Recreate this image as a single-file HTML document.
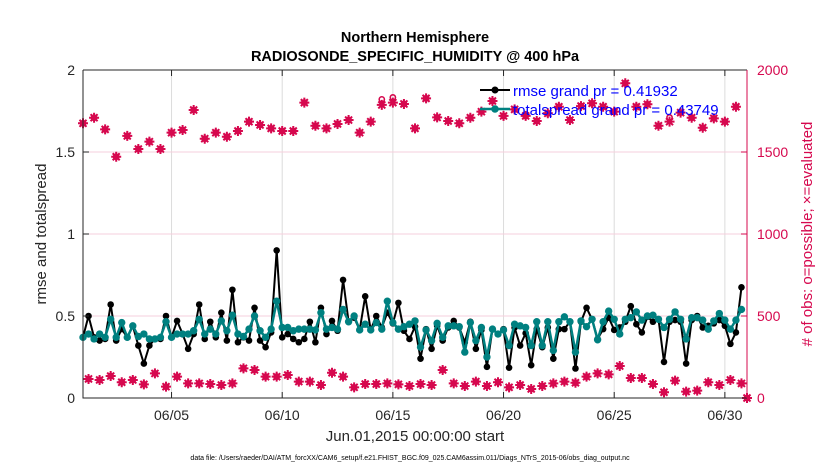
<!DOCTYPE html>
<html><head><meta charset="utf-8"><style>
body{margin:0;background:#fff;}
svg{display:block;font-family:"Liberation Sans",Arial,sans-serif;}
</style></head><body>
<svg id="chart" width="830" height="470" viewBox="0 0 830 470">
<rect x="0" y="0" width="830" height="470" fill="#fff"/>
<g id="grid"></g>
<g id="marks"></g>
<g id="axes"></g>
<text x="415" y="42" text-anchor="middle" font-size="14.5" font-weight="bold">Northern Hemisphere</text>
<text x="415" y="61" text-anchor="middle" font-size="14.5" font-weight="bold">RADIOSONDE_SPECIFIC_HUMIDITY @ 400 hPa</text>
<text x="415" y="441" text-anchor="middle" font-size="15" fill="#262626">Jun.01,2015 00:00:00 start</text>
<text transform="translate(46,234) rotate(-90)" text-anchor="middle" font-size="15" fill="#262626">rmse and totalspread</text>
<text transform="translate(812,234) rotate(-90)" text-anchor="middle" font-size="15" fill="#d6084e"># of obs: o=possible; ×=evaluated</text>
<text x="410" y="460" text-anchor="middle" font-size="7" fill="#000">data file: /Users/raeder/DAI/ATM_forcXX/CAM6_setup/f.e21.FHIST_BGC.f09_025.CAM6assim.011/Diags_NTrS_2015-06/obs_diag_output.nc</text>
<g>
<line x1="480" y1="90" x2="510" y2="90" stroke="#000" stroke-width="2"/>
<circle cx="495" cy="90" r="3.5" fill="#000"/>
<text x="513" y="96" font-size="15" fill="#0000ff">rmse grand pr = 0.41932</text>
<line x1="480" y1="109" x2="510" y2="109" stroke="#008080" stroke-width="2.5"/>
<circle cx="495" cy="109" r="3.8" fill="#008080"/>
<text x="513" y="115" font-size="15" fill="#0000ff">totalspread grand pr = 0.43749</text>
</g>
</svg>
<script>
const rmse = [.37,.50,.37,.35,.36,.57,.35,.42,.37,.44,.32,.21,.32,.36,.36,.50,.37,.47,.39,.30,.39,
.57,.36,.465,.37,.52,.35,.66,.34,.37,.35,.55,.35,.31,.40,.90,.37,.39,.36,.34,.36,
.465,.34,.55,.39,.47,.41,.72,.465,.49,.415,.62,.415,.50,.43,.52,.455,.58,.41,.36,.435,
.24,.42,.30,.44,.35,.43,.47,.43,.34,.465,.30,.415,.19,.42,.39,.42,.185,.43,.32,
.395,.20,.42,.31,.43,.24,.42,.42,.465,.18,.465,.55,.48,.36,.42,.49,.415,.43,.465,.56,
.45,.40,.495,.465,.48,.22,.465,.475,.465,.21,.475,.50,.43,.44,.455,.475,.44,.33,.40,.675];
const spread = [.37,.39,.36,.39,.37,.48,.37,.46,.37,.44,.375,.39,.36,.36,.37,.465,.37,.39,.39,.39,.41,
.48,.39,.42,.39,.47,.41,.505,.39,.375,.42,.50,.41,.37,.42,.59,.43,.43,.41,.42,.42,
.42,.415,.52,.42,.43,.42,.54,.465,.50,.415,.45,.415,.46,.42,.59,.46,.42,.435,.45,.47,
.31,.415,.35,.455,.37,.44,.44,.435,.28,.46,.35,.43,.25,.42,.39,.415,.32,.45,.44,
.43,.32,.465,.32,.465,.29,.465,.495,.465,.28,.47,.435,.48,.355,.465,.53,.48,.39,.48,.49,
.525,.475,.50,.505,.48,.43,.48,.525,.48,.36,.49,.49,.475,.42,.47,.515,.475,.42,.475,.54];
const evalTop = [1675,1709,1638,1471,1598,1518,1563,1518,1618,1634,1756,1581,1618,1593,1628,1685,1665,1644,1628,1628,1801,1660,1644,1671,1695,1618,1685,1787,1801,1793,1644,
1827,1711,1689,1675,1709,1746,1811,1720,1760,1720,1689,1736,1776,1695,1780,1797,1776,1746,1919,1776,1791,1660,1685,1740,1709,1648,1705,1685,1776];
const possTop = [1675,1709,1638,1471,1598,1518,1563,1518,1618,1634,1756,1581,1618,1593,1628,1685,1665,1644,1628,1628,1801,1660,1644,1671,1695,1618,1685,1821,1833,1793,1644,
1827,1711,1689,1675,1709,1746,1811,1720,1760,1720,1689,1736,1776,1695,1780,1797,1776,1746,1919,1776,1791,1660,1711,1740,1709,1648,1705,1685,1776];
const countLow = [116,110,134,96,110,83,150,69,130,89,89,85,79,89,181,171,130,130,140,100,100,79,154,130,65,85,85,89,83,73,
85,79,171,89,73,100,73,96,65,79,55,73,89,100,93,130,150,144,195,122,122,85,35,106,39,45,96,79,110,89,0];
const xTickLabels = ['06/05','06/10','06/15','06/20','06/25','06/30'];
const xTickDays = [4,9,14,19,24,29];
const yLeftTicks = [0,0.5,1,1.5,2];
const yRightTicks = [0,500,1000,1500,2000];

const L=83,R=747,T=70,B=398;
const xs = d => L + d/30*(R-L);
const yl = v => B - v/2*(B-T);
const yr = c => B - c/2000*(B-T);
const NS='http://www.w3.org/2000/svg';
function mk(tag, attrs, parent){const e=document.createElementNS(NS,tag);for(const k in attrs)e.setAttribute(k,attrs[k]);parent.appendChild(e);return e;}
const grid=document.getElementById('grid'), marks=document.getElementById('marks'), axes=document.getElementById('axes');
const CR='#d6084e';

xTickDays.forEach((d,i)=>{
  const g=mk('line',{x1:xs(d),x2:xs(d),y1:T,y2:B,stroke:'#dcdcdc','stroke-width':1},grid);
  
  
  const t=mk('line',{x1:xs(d),x2:xs(d),y1:B,y2:B-6,stroke:'#262626','stroke-width':1},axes);
  
  
  const t2=mk('line',{x1:xs(d),x2:xs(d),y1:T,y2:T+6,stroke:'#262626','stroke-width':1},axes);
  
  
  const lb=mk('text',{x:xs(d),y:B+22,'text-anchor':'middle','font-size':14,fill:'#262626'},axes);
  lb.textContent=xTickLabels[i];
  
  
});
yRightTicks.forEach(c=>{
  if(c>0&&c<2000){const g=mk('line',{x1:L,x2:R,y1:yr(c),y2:yr(c),stroke:'#f5cfdc','stroke-width':1},grid);
  
  }
  const t=mk('line',{x1:R,x2:R-6,y1:yr(c),y2:yr(c),stroke:CR,'stroke-width':1},axes);
  
  
  const lb=mk('text',{x:R+10,y:yr(c)+5,'font-size':14,fill:CR},axes);
  lb.textContent=c;
  
  
});
yLeftTicks.forEach(v=>{
  const t=mk('line',{x1:L,x2:L+6,y1:yl(v),y2:yl(v),stroke:'#262626','stroke-width':1},axes);
  
  
  const lb=mk('text',{x:L-8,y:yl(v)+5,'text-anchor':'end','font-size':14,fill:'#262626'},axes);
  lb.textContent=String(v);
  
  
});
const ax1=mk('path',{d:`M${L},${T}H${R}M${L},${T}V${B}H${R}`,stroke:'#262626','stroke-width':1,fill:'none'},axes);


const ax2=mk('line',{x1:R,x2:R,y1:T,y2:B,stroke:CR,'stroke-width':1},axes);



function star(x,y,name){
  const g=mk('path',{d:`M${x-5},${y}H${x+5}M${x},${y-5}V${y+5}M${x-3.5},${y-3.5}L${x+3.5},${y+3.5}M${x-3.5},${y+3.5}L${x+3.5},${y-3.5}`,stroke:CR,'stroke-width':2,fill:'none'},marks);
  
  
}
function circ(x,y,name){
  const c=mk('circle',{cx:x,cy:y,r:2.6,fill:'none',stroke:CR,'stroke-width':1.6},marks);
  
  
}
evalTop.forEach((c,j)=>{const x=xs(j*0.5);star(x,yr(c),'evaluated-count-point');circ(x,yr(possTop[j]),'possible-count-point');});
countLow.forEach((c,j)=>{const x=xs(Math.min(30,j*0.5+0.25));star(x,yr(c),'low-count-point');circ(x,yr(c),'low-possible-point');});

function series(arr,color,w,r,name){
  const pts=arr.map((v,i)=>xs(i*0.25).toFixed(1)+','+yl(v).toFixed(1)).join(' ');
  const pl=mk('polyline',{points:pts,fill:'none',stroke:color,'stroke-width':w,'stroke-linejoin':'round'},marks);
  
  
  arr.forEach((v,i)=>{const c=mk('circle',{cx:xs(i*0.25),cy:yl(v),r:r,fill:color},marks);
    
    });
}
series(rmse,'#000',2,3.3,'rmse');
series(spread,'#008080',2.5,3.7,'totalspread');
</script>
</body></html>
